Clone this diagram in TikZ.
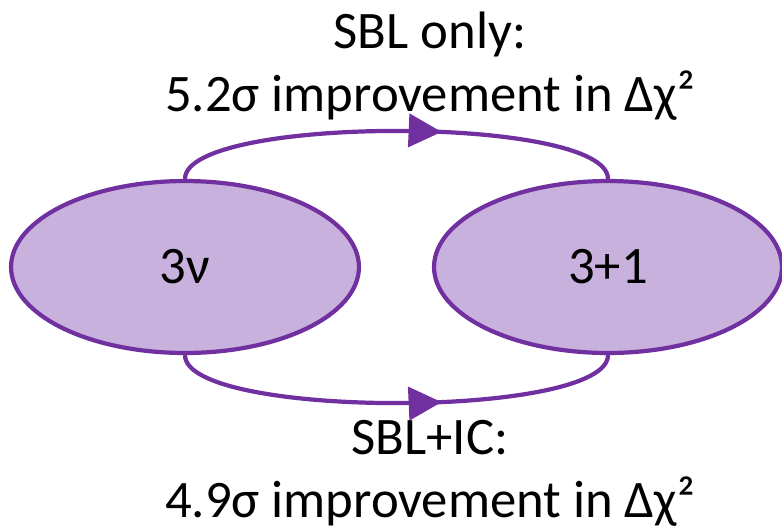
\documentclass[tikz,border=0pt]{standalone}
\usepackage{fontspec}
\setmainfont{Carlito}
\usetikzlibrary{shapes.geometric,arrows.meta,decorations.markings}
\definecolor{vio}{HTML}{7030A0}
\definecolor{lilac}{HTML}{C8B1DC}
\begin{document}
\begin{tikzpicture}[
    x=0.02cm, y=-0.02cm,
    state/.style = {ellipse, draw=vio, fill=lilac, line width=2.4pt,
                minimum width=6.96cm, minimum height=3.44cm,
                inner sep=0pt, font=\fontsize{30}{36}\selectfont},
    flow/.style = {draw=vio, line width=2.4pt,
                postaction={decorate, decoration={markings,
                mark=at position #1 with {\arrow{Triangle[length=0.66cm,width=0.66cm]}}}}},
    flow/.default = 0.6,  % where the arrow head sits
    lbl/.style = {anchor=base, inner sep=0pt, font=\fontsize{30}{36}\selectfont}
                    ]
        \useasboundingbox (0,0) rectangle (782,529);
        \node[state] (nu) at (185,267) {3ν};
        \node[state] (ster) at (608,267) {3+1};
        \draw [flow] (nu.north) .. controls +(0,-64) and +(0,-64) .. (ster.north);
        \draw [flow] (nu.south) .. controls +(0,64) and +(0,64) .. (ster.south);
        \node[lbl] (top1) at (430,48) {SBL only:};
        \node[lbl] (top2) at (430,111) {5.2σ improvement in Δχ²};
        \node[lbl] (bot1) at (430,454) {SBL+IC:};
        \node[lbl] (bot2) at (430,517) {4.9σ improvement in Δχ²};
    \end{tikzpicture}
\end{document}
